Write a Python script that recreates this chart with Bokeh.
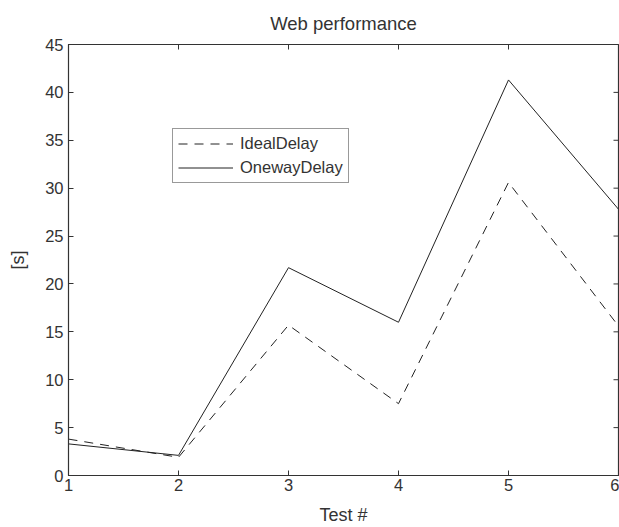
import math
from bokeh.plotting import figure
from bokeh.models import Legend, LegendItem, Range1d, FixedTicker
from bokeh.embed import file_html
from bokeh.resources import INLINE

tests = [1, 2, 3, 4, 5, 6]
ideal_delay = [3.8, 1.9, 15.7, 7.5, 30.6, 15.6]
oneway_delay = [3.3, 2.1, 21.7, 16.0, 41.3, 27.8]
x_ticks = [1, 2, 3, 4, 5, 6]
y_ticks = [0, 5, 10, 15, 20, 25, 30, 35, 40, 45]

FONT = "Liberation Sans"
TXT = "#333333"
AX = "#333333"

p = figure(width=619, height=527, output_backend="svg", toolbar_location=None,
           x_range=Range1d(x_ticks[0], x_ticks[-1]), y_range=Range1d(y_ticks[0], y_ticks[-1]),
           title="Web performance", x_axis_label="Test #", y_axis_label="[s]",
           min_border_left=68, min_border_top=42, min_border_right=1, min_border_bottom=50)

p.background_fill_color = "white"
p.border_fill_color = "white"
p.outline_line_color = AX
p.outline_line_width = 1.2
p.grid.visible = False

p.title.text_font = FONT
p.title.text_font_size = "18.5px"
p.title.text_font_style = "normal"
p.title.text_color = TXT
p.title.align = "center"
p.title.standoff = 21

for ax in p.xaxis + p.yaxis:
    ax.major_label_text_font = FONT
    ax.major_label_text_font_size = "16.5px"
    ax.major_label_text_color = TXT
    ax.axis_label_text_font = FONT
    ax.axis_label_text_font_size = "18px"
    ax.axis_label_text_font_style = "normal"
    ax.axis_label_text_color = TXT
    ax.axis_line_color = AX
    ax.major_tick_line_color = AX
    ax.major_tick_in = 5
    ax.major_tick_out = 0
    ax.minor_tick_line_color = None

p.xaxis.ticker = FixedTicker(ticks=x_ticks)
p.yaxis.ticker = FixedTicker(ticks=y_ticks)
p.xaxis.major_label_standoff = 3
p.xaxis.axis_label_standoff = 11
p.yaxis.major_label_standoff = 5
p.yaxis.axis_label_standoff = 14

# inside ticks on the top and right edges of the box (clipped to the frame)
p.scatter(x=x_ticks, y=[y_ticks[-1]] * len(x_ticks), marker="dash", size=10,
          angle=math.pi / 2, line_color=AX, line_width=1)
p.scatter(x=[x_ticks[-1]] * len(y_ticks), y=y_ticks, marker="dash", size=10,
          line_color=AX, line_width=1)

r_ideal = p.line(tests, ideal_delay, line_color="#222222", line_width=1, line_dash="9 7")
r_oneway = p.line(tests, oneway_delay, line_color="#222222", line_width=1)

legend = Legend(items=[LegendItem(label="IdealDelay", renderers=[r_ideal]),
                       LegendItem(label="OnewayDelay", renderers=[r_oneway])],
                location=(104, 292))
legend.label_text_font = FONT
legend.label_text_font_size = "16.5px"
legend.label_text_color = TXT
legend.border_line_color = AX
legend.border_line_width = 1.2
legend.padding = 5
legend.glyph_width = 55
legend.glyph_height = 19
legend.label_height = 19
legend.spacing = 5
legend.label_standoff = 7
legend.margin = 0
legend.background_fill_alpha = 1
p.add_layout(legend, "center")

open("out.html", "w").write(file_html(p, INLINE))
